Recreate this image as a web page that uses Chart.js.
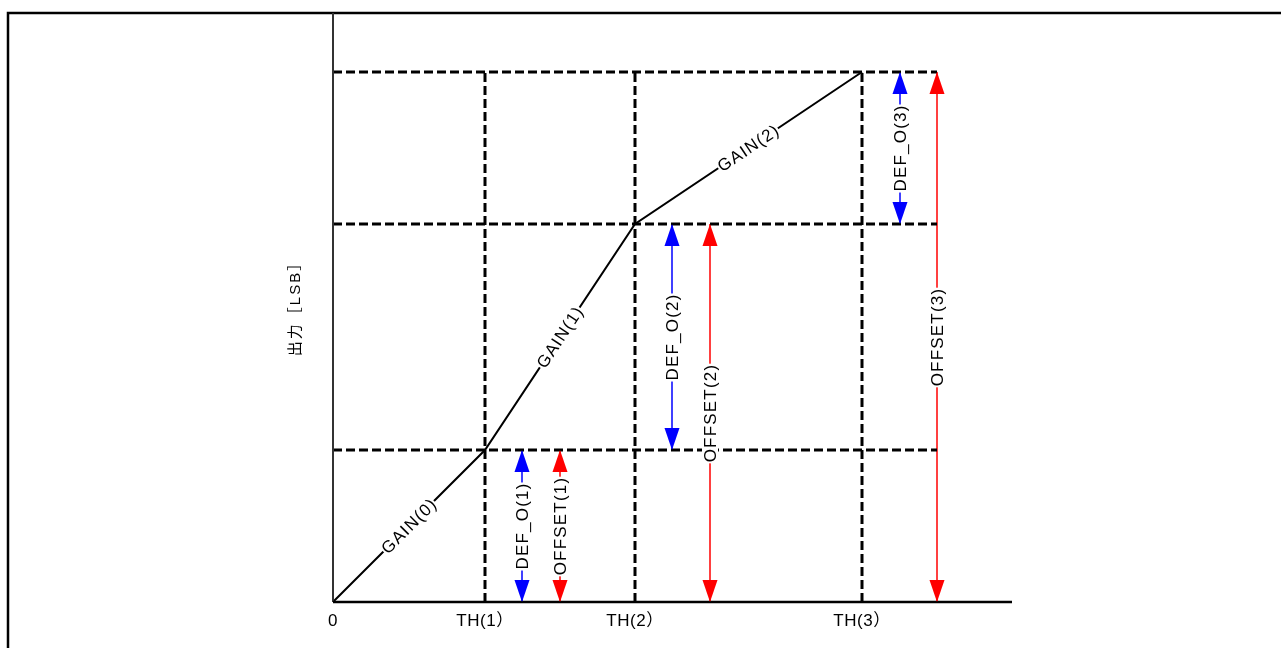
<!DOCTYPE html>
<html>
<head>
<meta charset="utf-8">
<script src="https://cdn.jsdelivr.net/npm/chart.js@4"></script>
<style>
  html, body { margin: 0; padding: 0; background: #fff; overflow: hidden; }
  canvas { display: block; }
</style>
</head>
<body>
<canvas id="gainChart" width="1281" height="648"></canvas>
<script>
// =====================
//  DATA
// =====================
const X_MAX = 679;
const Y_MAX = 590;

// thresholds on input axis, and output levels reached there
const thX = [0, 152, 302, 529];
const thLabels = ["0", "TH(1）", "TH(2）", "TH(3）"];
const outLevels = [0, 152, 378, 530];

const gainLabels = ["GAIN(0)", "GAIN(1)", "GAIN(2)"];

// vertical double arrows
const arrowX = [189, 227, 339, 377, 567, 604];
const arrowFrom = [0, 0, 152, 0, 378, 0];
const arrowTo = [152, 152, 378, 378, 530, 530];
const arrowLabels = ["DEF_O(1)", "OFFSET(1)", "DEF_O(2)", "OFFSET(2)", "DEF_O(3)", "OFFSET(3)"];
const arrowColors = ["#0000ff", "#ff0000", "#0000ff", "#ff0000", "#0000ff", "#ff0000"];

const yTitle = "出力［LSB］";
const FONT = "'Liberation Sans', Arial, 'Noto Sans CJK JP', sans-serif";

// =====================
//  DATASETS
// =====================
const datasets = [];

// dashed guide lines (horizontal, up to the last arrow)
const gridRight = arrowX[arrowX.length - 1];
outLevels.slice(1).forEach((lv) => {
    datasets.push({
        data: [{ x: 0, y: lv }, { x: gridRight, y: lv }],
        borderColor: "#000",
        borderWidth: 3,
        borderDash: [9, 4],
        pointRadius: 0
    });
});
// dashed guide lines (vertical)
thX.slice(1).forEach((tx) => {
    datasets.push({
        data: [{ x: tx, y: 0 }, { x: tx, y: outLevels[outLevels.length - 1] }],
        borderColor: "#000",
        borderWidth: 3,
        borderDash: [9, 4],
        pointRadius: 0
    });
});

// gain curve
datasets.push({
    data: thX.map((x, i) => ({ x, y: outLevels[i] })),
    borderColor: "#000",
    borderWidth: 2,
    pointRadius: 0
});

// arrow shafts
arrowX.forEach((ax, i) => {
    datasets.push({
        data: [{ x: ax, y: arrowFrom[i] }, { x: ax, y: arrowTo[i] }],
        borderColor: arrowColors[i],
        borderWidth: 1.5,
        pointRadius: 0
    });
});

// =====================
//  DECORATIONS PLUGIN
// =====================
function labelBox(ctx, text, cx, cy, angle) {
    ctx.save();
    ctx.translate(cx, cy);
    ctx.rotate(angle);
    const w = ctx.measureText(text).width;
    ctx.fillStyle = "#fff";
    ctx.fillRect(-w / 2 - 1, -8, w + 1, 16);
    ctx.fillStyle = "#000";
    ctx.textAlign = "center";
    ctx.textBaseline = "middle";
    ctx.fillText(text, 0, 1);
    ctx.restore();
}

function arrowHead(ctx, x, y, dir, color) {
    // dir = -1 tip pointing up, +1 tip pointing down
    const w = 7.5, h = 22;
    ctx.beginPath();
    ctx.moveTo(x, y);
    ctx.lineTo(x - w, y - dir * h);
    ctx.lineTo(x + w, y - dir * h);
    ctx.closePath();
    ctx.fillStyle = color;
    ctx.fill();
}

const decor = {
    id: "decor",
    beforeDraw(chart) {
        const ctx = chart.ctx;
        ctx.save();
        ctx.fillStyle = "#fff";
        ctx.fillRect(0, 0, chart.width, chart.height);
        // outer frame
        ctx.strokeStyle = "#000";
        ctx.lineWidth = 2.5;
        ctx.strokeRect(8, 13, chart.width + 20, chart.height + 20);
        ctx.restore();
    },
    afterDatasetsDraw(chart) {
        const ctx = chart.ctx;
        const xs = chart.scales.x, ys = chart.scales.y;
        const a = chart.chartArea;
        ctx.save();

        // axes
        ctx.strokeStyle = "#333";
        ctx.lineWidth = 2;
        ctx.beginPath();
        ctx.moveTo(a.left, 13);
        ctx.lineTo(a.left, a.bottom);
        ctx.stroke();
        ctx.strokeStyle = "#000";
        ctx.lineWidth = 2.5;
        ctx.beginPath();
        ctx.moveTo(a.left, a.bottom);
        ctx.lineTo(a.right, a.bottom);
        ctx.stroke();

        // arrow heads
        arrowX.forEach((ax, i) => {
            const px = xs.getPixelForValue(ax);
            arrowHead(ctx, px, ys.getPixelForValue(arrowTo[i]), -1, arrowColors[i]);
            arrowHead(ctx, px, ys.getPixelForValue(arrowFrom[i]), 1, arrowColors[i]);
        });

        ctx.font = "17px " + FONT;
        ctx.letterSpacing = "1.2px";

        // arrow labels
        arrowX.forEach((ax, i) => {
            const px = xs.getPixelForValue(ax);
            const py = (ys.getPixelForValue(arrowFrom[i]) + ys.getPixelForValue(arrowTo[i])) / 2;
            labelBox(ctx, arrowLabels[i], px, py, -Math.PI / 2);
        });

        // gain labels along the curve
        gainLabels.forEach((t, i) => {
            const x0 = xs.getPixelForValue(thX[i]), y0 = ys.getPixelForValue(outLevels[i]);
            const x1 = xs.getPixelForValue(thX[i + 1]), y1 = ys.getPixelForValue(outLevels[i + 1]);
            labelBox(ctx, t, (x0 + x1) / 2, (y0 + y1) / 2, Math.atan2(y1 - y0, x1 - x0));
        });

        // tick labels
        ctx.letterSpacing = "0.5px";
        ctx.fillStyle = "#000";
        ctx.textAlign = "center";
        ctx.textBaseline = "middle";
        thX.forEach((tx, i) => {
            ctx.fillText(thLabels[i], xs.getPixelForValue(tx), a.bottom + 19);
        });

        // y title
        ctx.font = "15px " + FONT;
        ctx.letterSpacing = "2px";
        ctx.translate(a.left - 37, 305);
        ctx.rotate(-Math.PI / 2);
        ctx.fillText(yTitle, 0, 0);
        ctx.restore();
    }
};

// =====================
//  CHART
// =====================
const ctx = document.getElementById("gainChart").getContext("2d");

new Chart(ctx, {
    type: "line",
    data: { datasets },
    options: {
        responsive: false,
        animation: false,
        layout: { padding: { left: 333, top: 12, right: 269, bottom: 46 } },
        plugins: {
            legend: { display: false },
            tooltip: { enabled: false }
        },
        scales: {
            x: { type: "linear", min: 0, max: X_MAX, display: false },
            y: { type: "linear", min: 0, max: Y_MAX, display: false }
        }
    },
    plugins: [decor]
});
</script>
</body>
</html>
